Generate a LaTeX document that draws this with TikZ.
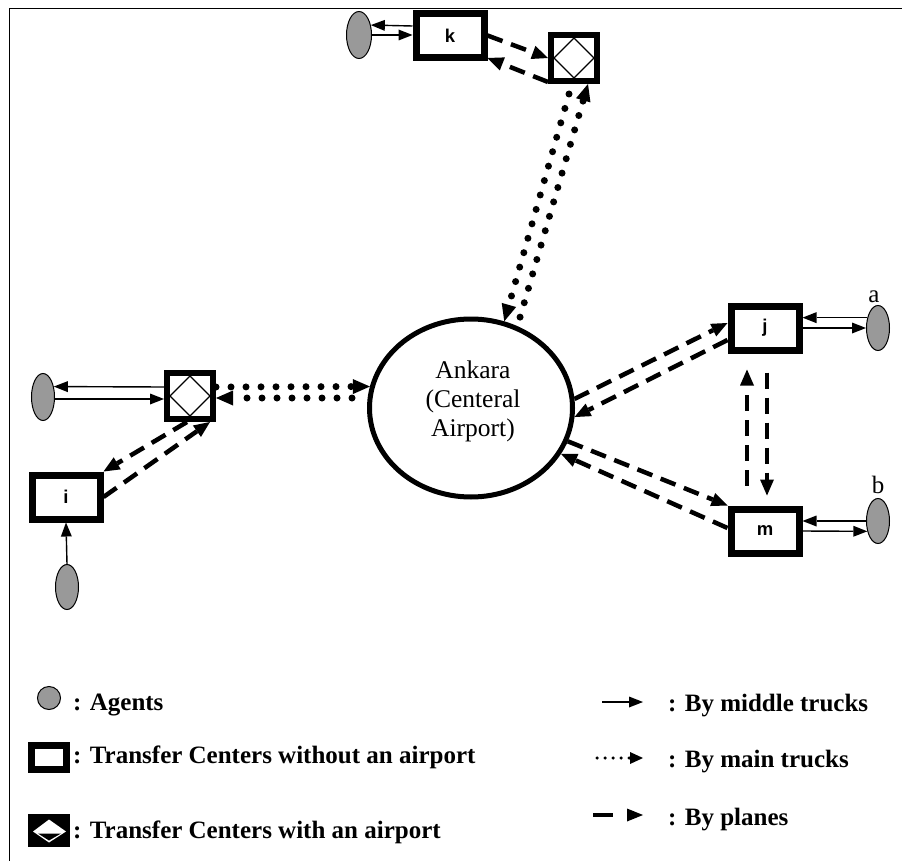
\documentclass[tikz,border=0pt]{standalone}
\usepackage{fontspec}
\setmainfont{Liberation Serif}
\newfontfamily\lsans{Liberation Sans}
\usetikzlibrary{arrows.meta,shapes.geometric,calc}
\definecolor{agentgray}{RGB}{153,153,153}
\tikzset{
  agent/.style={ellipse, draw=black, line width=1pt, fill=agentgray, inner sep=0pt, minimum width=23pt, minimum height=46pt},
  tcbox/.style={rectangle, draw=black, line width=7pt, fill=white, inner sep=0pt, minimum width=68pt, minimum height=44pt, font=\lsans\bfseries\fontsize{18.5}{21}\selectfont},
  tcair/.style={rectangle, draw=black, line width=6pt, fill=white, inner sep=0pt, minimum size=46pt,
    path picture={\draw[line width=1.3pt]
      ([xshift=-20pt]path picture bounding box.center) -- ([yshift=20pt]path picture bounding box.center)
      -- ([xshift=20pt]path picture bounding box.center) -- ([yshift=-20pt]path picture bounding box.center) -- cycle;}},
  ankara/.style={ellipse, draw=black, line width=5pt, inner sep=0pt, minimum width=203pt, minimum height=178pt},
  anktext/.style={align=center, inner sep=0pt, font=\fontsize{25.5}{29}\selectfont},
  lbl/.style={anchor=base, inner sep=0pt, font=\fontsize{25}{28}\selectfont},
  legtext/.style={anchor=base west, inner sep=0pt, font=\bfseries\fontsize{25}{30}\selectfont},
  mid/.style={line width=1.4pt, -{Triangle[length=14pt,width=11pt,line width=0pt]}},
  plane/.style={line width=4.5pt, dash pattern=on 16pt off 9pt, -{Triangle[length=16pt,width=14pt,line width=0pt]}},
  mtruck/.style={line width=7pt, line cap=round, dash pattern=on 0pt off 15pt, -{Triangle[length=17pt,width=15pt,line width=0pt]}},
  frameline/.style={line width=1.7pt}
}
\begin{document}
\begin{tikzpicture}[x=1pt,y=-1pt]
\useasboundingbox (0,0) rectangle (902,861);
\draw[frameline] (9.5,861) -- (9.5,8.5) -- (902,8.5);

% nodes
\node[agent, minimum width=25pt, minimum height=47pt] (agk) at (359,35) {};
\node[tcbox] (k) at (450,35.5) {k};
\node[tcair] (K2) at (574,58) {};
\node[ankara] (ank) at (471,408) {};
\node[anktext] (ankt) at (473,401) {Ankara\\(Centeral\\Airport)};
\node[tcair] (I2) at (190,396) {};
\node[agent, minimum height=47pt] (agl) at (43,397) {};
\node[tcbox] (i) at (66,497) {i};
\node[agent, minimum height=45pt] (agi) at (67,587) {};
\node[tcbox] (j) at (765,328) {j};
\node[agent, minimum height=45pt] (aga) at (878,328) {};
\node[tcbox] (m) at (765,531) {m};
\node[agent, minimum height=45pt] (agb) at (878,521) {};
\node[lbl] (la) at (874,302) {a};
\node[lbl] (lb) at (878,493) {b};

% middle trucks
\draw[mid] ([yshift=9.5pt]k.west) -- (agk.40);
\draw[mid] (agk.east) -- (agk.east -| k.west);
\draw[mid] ([yshift=9pt]I2.west) -- (agl.44);
\draw[mid] ([yshift=-2pt]agl.east) -- ([yshift=-2pt]agl.east -| I2.west);
\draw[mid] (agi.north) -- (i.south);
\draw[mid] (aga.136) -- (aga.136 -| j.east);
\draw[mid] (j.east) -- (j.east -| aga.west);
\draw[mid] (agb.west) -- (agb.west -| m.east);
\draw[mid] (m.east) -- (agb.224);

% planes
\draw[plane] (k.east) -- (K2.west);
\draw[plane] ([yshift=2pt]K2.south west) -- ([yshift=3pt]k.south east);
\draw[plane] ([xshift=-3pt]I2.south) -- (i.north east);
\draw[plane] (i.east) -- ([xshift=20pt]I2.south);
\draw[plane] (ank.5) -- ([yshift=5pt]j.west);
\draw[plane] ([yshift=-12pt]j.west) -- (ank.-5);
\draw[plane] (ank.-19) -- (m.north west);
\draw[plane] ([yshift=3pt]m.west) -- (ank.-27);
\draw[plane] ([xshift=-18pt,yshift=20pt]m.north) -- ([xshift=-18pt,yshift=-16pt]j.south);
\draw[plane] ([xshift=2pt,yshift=-19pt]j.south) -- ([xshift=2pt,yshift=10pt]m.north);

% main trucks
\draw[mtruck] ([yshift=9pt]I2.east) -- (ank.168);
\draw[mtruck] ([xshift=-15pt,yshift=10pt]ank.west) -- ([yshift=-2pt]I2.east);
\draw[mtruck] ([xshift=5pt,yshift=8pt]ank.62) -- ([xshift=14pt]K2.south);
\draw[mtruck] ([xshift=-5pt,yshift=-10pt]K2.south) -- (ank.69);

% legend
\node[agent, minimum width=23pt, minimum height=23pt] (lgag) at (49,698) {};
\node[legtext] (t1) at (73,710) {: Agents};
\node[tcbox, minimum width=35pt, minimum height=24pt] (lgtc) at (49,757.5) {};
\node[legtext] (t2) at (73,763) {: Transfer Centers without an airport};
\node[rectangle, fill=black, inner sep=0pt, minimum width=42pt, minimum height=33pt,
  path picture={
    \fill[white] ([xshift=-16pt,yshift=-1pt]path picture bounding box.center) -- ([yshift=11pt]path picture bounding box.center)
      -- ([xshift=17pt,yshift=-1pt]path picture bounding box.center) -- ([yshift=-12pt]path picture bounding box.center) -- cycle;
    \fill[black] ([xshift=-11pt,yshift=-3pt]path picture bounding box.center) -- ([xshift=12pt,yshift=-3pt]path picture bounding box.center)
      -- ([yshift=-10pt]path picture bounding box.center) -- cycle;}] (lgair) at (49,830.5) {};
\node[legtext] (t3) at (73,838) {: Transfer Centers with an airport};

\coordinate (lm1) at (602,702);
\coordinate (lm2) at (643,702);
\draw[mid] (lm1) -- (lm2);
\node[legtext] (t4) at (668,711) {: By middle trucks};

\coordinate (lt1) at (597,758);
\coordinate (lt2) at (643,758);
\draw[line width=3.5pt, line cap=round, dash pattern=on 0pt off 8pt, -{Triangle[length=13pt,width=12pt,line width=0pt]}] (lt1) -- (lt2);
\node[legtext] (t5) at (668,767) {: By main trucks};

\coordinate (lp1) at (593,815);
\coordinate (lp2) at (643,815);
\draw[line width=4.5pt, dash pattern=on 20pt off 30pt, -{Triangle[length=16pt,width=13pt,line width=0pt]}] (lp1) -- (lp2);
\node[legtext] (t6) at (668,825) {: By planes};
\end{tikzpicture}
\end{document}
